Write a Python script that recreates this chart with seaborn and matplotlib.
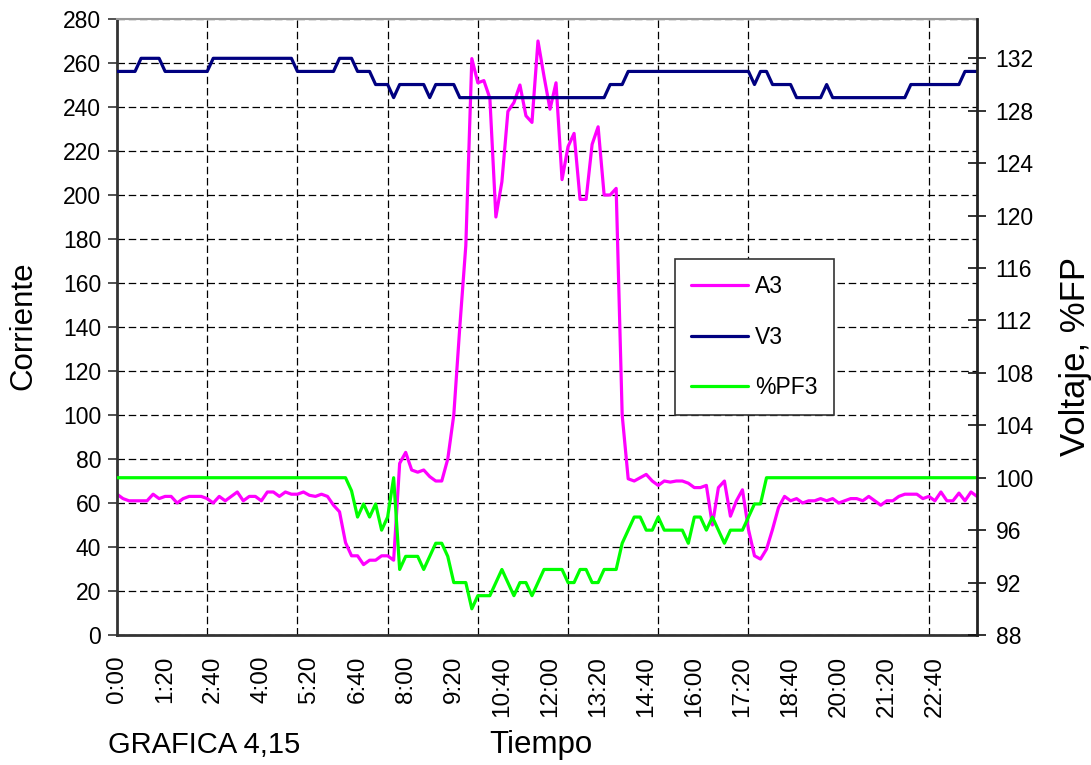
import matplotlib
matplotlib.use('Agg')
import matplotlib.pyplot as plt
import numpy as np
import pandas as pd
import seaborn as sns

sns.set_style('white')
plt.rcParams['font.family'] = ['Liberation Sans', 'DejaVu Sans']
plt.rcParams.update({'text.color': 'black', 'xtick.color': 'black', 'ytick.color': 'black'})

# x labels shown every 8th reading (10 min readings)
tick_labels = ['0:00', '1:20', '2:40', '4:00', '5:20', '6:40', '8:00', '9:20',
               '10:40', '12:00', '13:20', '14:40', '16:00', '17:20', '18:40',
               '20:00', '21:20', '22:40']

# Corriente (left axis)
a3 = [64, 62, 61, 61, 61, 61, 64, 62, 63, 63,
      60, 62, 63, 63, 63, 62, 60, 63, 61, 63,
      65, 61, 63, 63, 61, 65, 65, 63, 65, 64,
      64, 65, 63.5, 63, 64, 63, 59, 56, 42, 36,
      36, 32, 34, 34, 36, 36, 34, 78, 83, 75,
      74, 75, 72, 70, 70, 80, 100, 140, 177, 262,
      251, 252, 244, 190, 206, 238, 242, 250, 236, 233,
      270, 254, 239, 251, 207, 222, 228, 198, 198, 223,
      231, 200, 200, 203, 100, 71, 70, 71.5, 73, 70,
      68, 70, 69.5, 70, 70, 69, 67, 67, 68, 50,
      67, 70, 54, 61, 66, 48, 36, 34.5, 39, 48,
      58, 63, 61, 62, 60, 61, 61, 62, 61, 62,
      60, 61, 62, 62, 61, 63, 61, 59, 61, 61,
      63, 64, 64, 64, 62, 63, 61, 65, 61, 61,
      64.5, 61, 65, 63]

# Voltaje (right axis)
v3 = [131, 131, 131, 131, 132, 132, 132, 132, 131, 131,
      131, 131, 131, 131, 131, 131, 132, 132, 132, 132,
      132, 132, 132, 132, 132, 132, 132, 132, 132, 132,
      131, 131, 131, 131, 131, 131, 131, 132, 132, 132,
      131, 131, 131, 130, 130, 130, 129, 130, 130, 130,
      130, 130, 129, 130, 130, 130, 130, 129, 129, 129,
      129, 129, 129, 129, 129, 129, 129, 129, 129, 129,
      129, 129, 129, 129, 129, 129, 129, 129, 129, 129,
      129, 129, 130, 130, 130, 131, 131, 131, 131, 131,
      131, 131, 131, 131, 131, 131, 131, 131, 131, 131,
      131, 131, 131, 131, 131, 131, 130, 131, 131, 130,
      130, 130, 130, 129, 129, 129, 129, 129, 130, 129,
      129, 129, 129, 129, 129, 129, 129, 129, 129, 129,
      129, 129, 130, 130, 130, 130, 130, 130, 130, 130,
      130, 131, 131, 131]

# %FP (right axis)
pf3 = [100, 100, 100, 100, 100, 100, 100, 100, 100, 100,
       100, 100, 100, 100, 100, 100, 100, 100, 100, 100,
       100, 100, 100, 100, 100, 100, 100, 100, 100, 100,
       100, 100, 100, 100, 100, 100, 100, 100, 100, 99,
       97, 98, 97, 98, 96, 97, 100, 93, 94, 94,
       94, 93, 94, 95, 95, 94, 92, 92, 92, 90,
       91, 91, 91, 92, 93, 92, 91, 92, 92, 91,
       92, 93, 93, 93, 93, 92, 92, 93, 93, 92,
       92, 93, 93, 93, 95, 96, 97, 97, 96, 96,
       97, 96, 96, 96, 96, 95, 97, 97, 96, 97,
       96, 95, 96, 96, 96, 97, 98, 98, 100, 100,
       100, 100, 100, 100, 100, 100, 100, 100, 100, 100,
       100, 100, 100, 100, 100, 100, 100, 100, 100, 100,
       100, 100, 100, 100, 100, 100, 100, 100, 100, 100,
       100, 100, 100, 100]

df = pd.DataFrame({'idx': np.arange(len(a3)), 'A3': a3, 'V3': v3, '%PF3': pf3})

fig = plt.figure(figsize=(10.91, 7.65), dpi=100)
ax = fig.add_axes([117 / 1091, 130 / 765, 860 / 1091, 616 / 765])
ax2 = ax.twinx()

sns.lineplot(data=df, x='idx', y='A3', ax=ax, color='#ff00ff', lw=2.3, legend=False)
sns.lineplot(data=df, x='idx', y='V3', ax=ax2, color='#000080', lw=2.3, legend=False)
sns.lineplot(data=df, x='idx', y='%PF3', ax=ax2, color='#00ff00', lw=2.3, legend=False)

ax.set_xlim(0, len(a3) - 1)
ax.set_ylim(0, 280)
ax.set_yticks(range(0, 281, 20))
ax2.set_ylim(88, 135)
ax2.set_yticks(range(88, 133, 4))
ax.set_xlabel('')
ax.set_ylabel('')
ax2.set_ylabel('')

# labels every 8 readings, tick marks + grid every 15
ax.set_xticks(range(0, len(a3), 8))
ax.set_xticklabels(tick_labels, rotation=90, fontsize=17.5)
ax.set_xticks(range(0, len(a3), 15), minor=True)
ax.tick_params(axis='x', which='major', length=0, pad=15)
ax.tick_params(axis='x', which='minor', direction='inout', length=13, width=1.2, color='#333333')
ax.tick_params(axis='y', direction='out', length=6.5, width=1.2, labelsize=16.5, pad=5, color='#333333')
ax2.tick_params(axis='y', direction='inout', length=13, width=1.2, labelsize=16.5, pad=7, color='#111111')

dash = (0, (6, 3))
ax.yaxis.grid(True, ls=dash, color='black', lw=0.9)
ax.xaxis.grid(True, which='minor', ls=dash, color='black', lw=0.9)
ax.xaxis.grid(False, which='major')

for s in ['left', 'bottom']:
    ax.spines[s].set_color('#333333')
    ax.spines[s].set_linewidth(2)
ax.spines['top'].set_color('#999999')
ax.spines['top'].set_linewidth(1.5)
ax.spines['right'].set_visible(False)
for s in ['left', 'bottom', 'top']:
    ax2.spines[s].set_visible(False)
ax2.spines['right'].set_color('#222222')
ax2.spines['right'].set_linewidth(2)

handles = ax.lines[:1] + ax2.lines[:2]
leg = ax2.legend(handles, ['A3', 'V3', '%PF3'], loc='upper left',
                 bbox_to_anchor=(675 / 1091, 1 - 259 / 765), bbox_transform=fig.transFigure,
                 frameon=True, fancybox=False, framealpha=1, edgecolor='#333333',
                 fontsize=16.5, handlelength=2.5, handletextpad=0.3, labelspacing=1.2,
                 borderpad=0.7, borderaxespad=0)
leg.get_frame().set_linewidth(1.2)

fig.text(23 / 1091, 1 - 326 / 765, 'Corriente', rotation=90, ha='center', va='center', fontsize=22.5)
fig.text(1075 / 1091, 1 - 357 / 765, 'Voltaje, %FP', rotation=90, ha='center', va='center', fontsize=25)
fig.text(541 / 1091, 1 - 745 / 765, 'Tiempo', ha='center', va='center', fontsize=22.5)
fig.text(108 / 1091, 1 - 745 / 765, 'GRAFICA 4,15', ha='left', va='center', fontsize=21)

fig.savefig('out.png', dpi=100)
